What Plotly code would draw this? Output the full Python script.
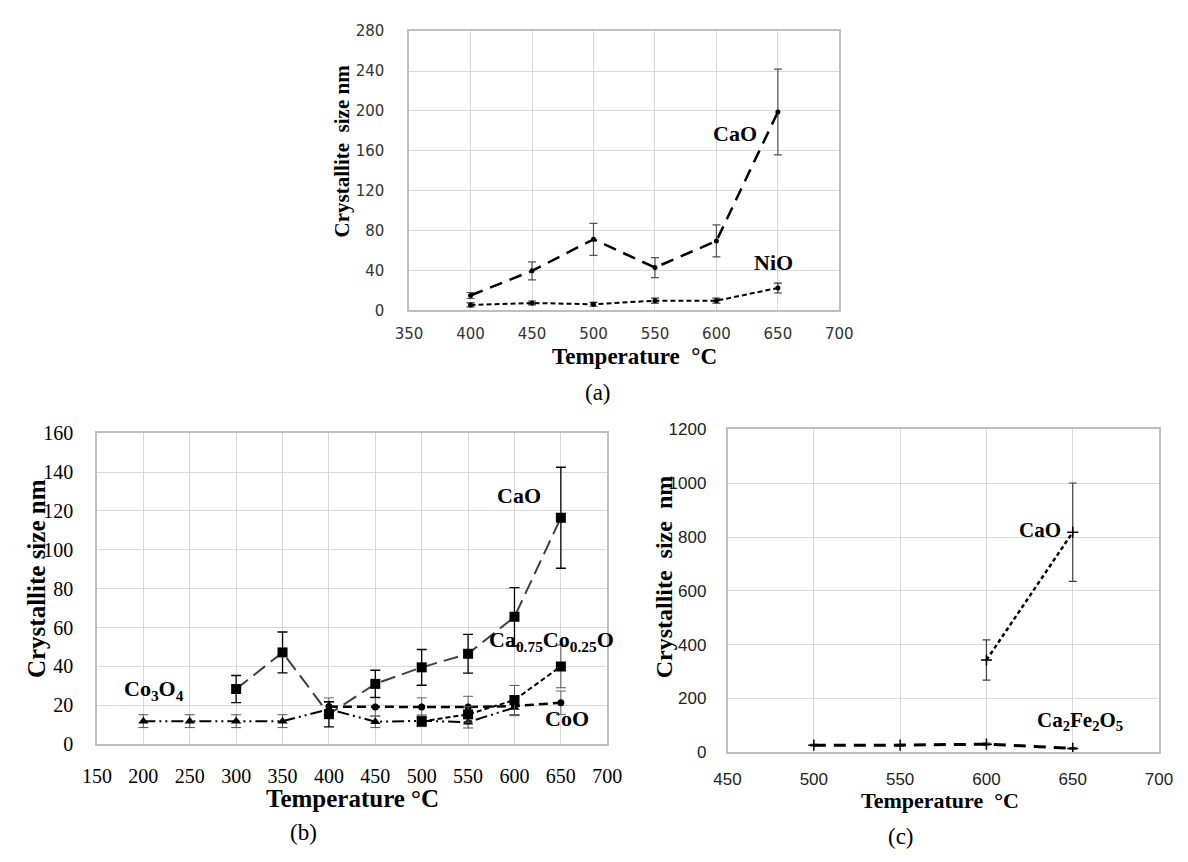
import plotly.graph_objects as go

W, H = 1188, 862

# ---------------- data: panel (a) ----------------
a_temp = [400, 450, 500, 550, 600, 650]
a_cao = [15, 39.7, 71.3, 43, 69.7, 199]
a_cao_err = [3, 9, 16, 10, 16, 43]
a_nio = [5.5, 7.5, 6.2, 9.8, 9.8, 22.5]
a_nio_err = [2, 2, 2, 2.5, 2.5, 5]

# ---------------- data: panel (b) ----------------
b_cao_temp = [300, 350, 400, 450, 500, 550, 600, 650]
b_cao = [28.3, 47.2, 15.4, 31, 39.5, 46.5, 65.5, 116.5]
b_cao_err = [7, 10.5, 6.5, 7, 9.2, 10, 15, 26]
b_caco_temp = [500, 550, 600, 650]
b_caco = [11.7, 15.3, 22.7, 40]
b_caco_err = [2.5, 4, 7.5, 11]
b_coo_temp = [400, 450, 500, 550, 600, 650]
b_coo = [19.3, 19.1, 19.1, 19.1, 19.6, 21.3]
b_coo_err = [4.5, 4.7, 4.7, 5.5, 5, 6]
b_co3o4_temp = [200, 250, 300, 350, 400, 450, 500, 550, 600]
b_co3o4 = [11.8, 11.8, 11.8, 11.8, 18, 11.5, 12, 11.3, 18.8]
b_co3o4_err = [3.3, 3.3, 3.3, 3.3, 3.5, 3, 3, 3, 4]

# ---------------- data: panel (c) ----------------
c_cao_temp = [600, 650]
c_cao = [343, 818]
c_cao_err = [75, 183]
c_cafe_temp = [500, 550, 600, 650]
c_cafe = [26.6, 26.6, 30.2, 14.5]
c_cafe_err = [3, 3, 4, 3]

# tick values
a_xticks = [350, 400, 450, 500, 550, 600, 650, 700]
a_yticks = [0, 40, 80, 120, 160, 200, 240, 280]
b_xticks = [150, 200, 250, 300, 350, 400, 450, 500, 550, 600, 650, 700]
b_yticks = [0, 20, 40, 60, 80, 100, 120, 140, 160]
c_xticks = [450, 500, 550, 600, 650, 700]
c_yticks = [0, 200, 400, 600, 800, 1000, 1200]

SERIF = "Liberation Serif, Times New Roman, serif"


def px(x):
    return x / W


def py(y):
    return 1 - y / H


fig = go.Figure()


def add(xs, ys, err, xa, ya, color, dash, width, symbol, msize, ecolor, ewidth=1, ecap=4, mline=0):
    fig.add_trace(go.Scatter(
        x=xs, y=ys, xaxis=xa, yaxis=ya, mode="lines+markers",
        line=dict(color=color, dash=dash, width=width),
        marker=dict(symbol=symbol, size=msize, color="black",
                    line=dict(color="black", width=mline)),
        error_y=dict(type="data", array=err, visible=True, color=ecolor,
                     thickness=ewidth, width=ecap),
        showlegend=False,
    ))


# panel (a)
add(a_temp, a_cao, a_cao_err, "x", "y", "black", "13px,8px", 2.5, "circle", 5, "#555555", 1.2, 4)
add(a_temp, a_nio, a_nio_err, "x", "y", "black", "5px,3px", 2, "circle", 5, "#333333", 1.2, 4)

# panel (b)
add(b_co3o4_temp, b_co3o4, b_co3o4_err, "x2", "y2", "black", "12px,4px,2px,4px,2px,4px", 2, "triangle-up", 9, "#555555", 1, 5)
add(b_coo_temp, b_coo, b_coo_err, "x2", "y2", "black", "9px,5px", 2.5, "circle", 7, "#666666", 1, 5)
add(b_caco_temp, b_caco, b_caco_err, "x2", "y2", "black", "5px,3px", 2, "square", 10, "#555555", 1, 5)
add(b_cao_temp, b_cao, b_cao_err, "x2", "y2", "#404040", "15px,7px", 2, "square", 10, "black", 1.3, 5)

# panel (c)
add(c_cao_temp, c_cao, c_cao_err, "x3", "y3", "black", "4px,3px", 2.5, "cross-thin", 8, "#404040", 1.2, 4, 1.5)
add(c_cafe_temp, c_cafe, c_cafe_err, "x3", "y3", "black", "12px,8px", 3, "cross-thin", 8, "#404040", 1.2, 4, 1.5)

grid = "#d9d9d9"
axline = "#bfbfbf"


def ax(dom, rng, ticks, font, standoff, anchor):
    return dict(domain=dom, range=rng, tickvals=ticks, showgrid=True, gridcolor=grid, gridwidth=1,
                showline=True, linecolor=axline, linewidth=1.5, mirror=True, zeroline=False,
                ticks="", ticklabelstandoff=standoff, tickfont=font, anchor=anchor, fixedrange=True)


fa = dict(family="DejaVu Sans, sans-serif", size=15, color="#333333")
fb = dict(family=SERIF, size=20, color="black")
fc = dict(family="Liberation Sans Narrow, Arial Narrow, sans-serif", size=17, color="#222222")

fig.update_layout(
    width=W, height=H, margin=dict(l=0, r=0, t=0, b=0),
    paper_bgcolor="white", plot_bgcolor="white",
    xaxis=ax([px(404.3), px(845.7)], [350, 700], a_xticks, fa, 9, "y"),
    yaxis=ax([py(307.3), py(20.7)], [0, 280], a_yticks, fa, 20, "x"),
    xaxis2=ax([px(84.1), px(607.6)], [150, 700], b_xticks, fb, 13, "y2"),
    yaxis2=ax([py(752.3), py(433.3)], [0, 160], b_yticks, fb, 18, "x2"),
    xaxis3=ax([px(731), px(1173.7)], [450, 700], c_xticks, fc, 11, "y3"),
    yaxis3=ax([py(760.7), py(429.4)], [0, 1200], c_yticks, fc, 16, "x3"),
)

anns = []


def note(text, x, y, size, bold=True, angle=0, xref="paper", yref="paper"):
    t = "<b>" + text + "</b>" if bold else text
    anns.append(dict(text=t, x=x, y=y, xref=xref, yref=yref, showarrow=False,
                     xanchor="center", yanchor="middle", textangle=angle,
                     font=dict(family=SERIF, size=size, color="black")))


# axis titles & panel labels (pixel positions)
note("Crystallite  size nm", px(335), py(143.5), 21, angle=-90)
note("Temperature  °C", px(636), py(355), 23)
note("(a)", px(598), py(392), 23, bold=False)

note("Crystallite size nm", px(22), py(582.5), 25, angle=-90)
note("Temperature °C", px(346), py(808), 25)
note("(b)", px(296), py(843), 23, bold=False)

note("Crystallite  size  nm", px(666), py(581), 24, angle=-90)
note("Temperature  °C", px(948.5), py(810), 22)
note("(c)", px(909), py(847), 23, bold=False)

# series labels (data coordinates)
note("CaO", 615, 177, 22, xref="x", yref="y")
note("NiO", 646.6, 48.5, 22, xref="x", yref="y")
note("CaO", 605, 128, 22, xref="x2", yref="y2")
note("Ca<sub>0.75</sub>Co<sub>0.25</sub>O", 640, 53, 22, xref="x2", yref="y2")
note("CoO", 657, 13, 22, xref="x2", yref="y2")
note("Co<sub>3</sub>O<sub>4</sub>", 211, 28, 22, xref="x2", yref="y2")
note("CaO", 631, 826, 21, xref="x3", yref="y3")
note("Ca<sub>2</sub>Fe<sub>2</sub>O<sub>5</sub>", 654, 117, 21, xref="x3", yref="y3")

fig.update_layout(annotations=anns)

fig.write_html("out.html")
